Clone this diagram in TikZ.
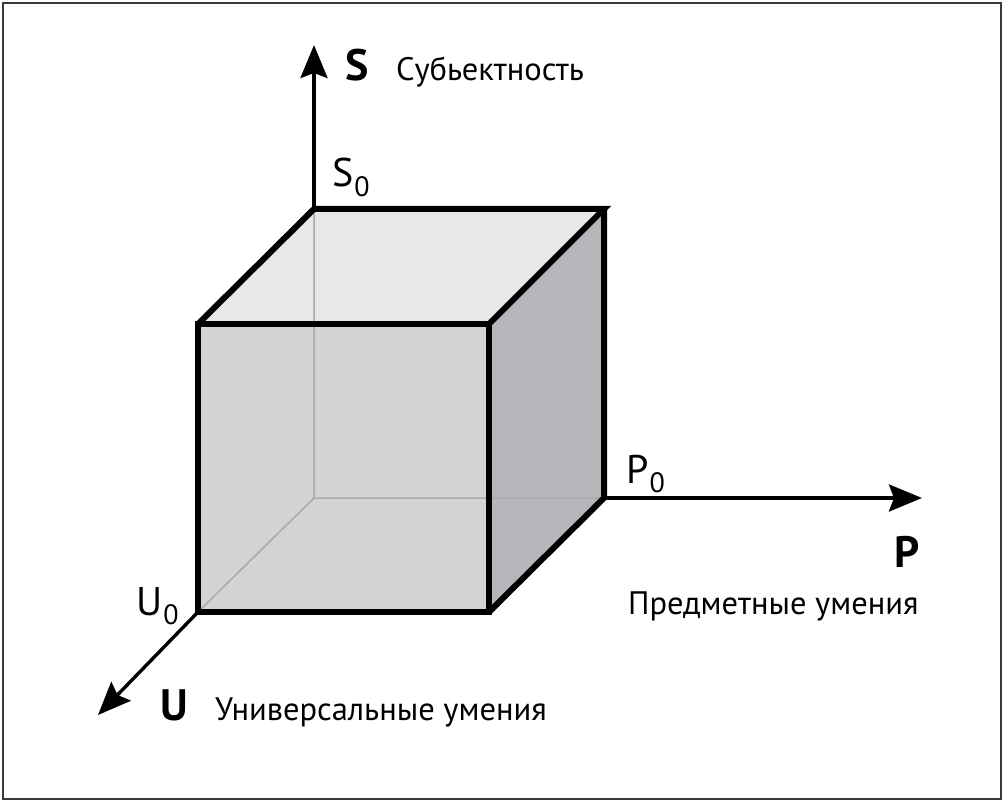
\documentclass[tikz,border=0pt]{standalone}
\usepackage{fontspec}
\setmainfont{PT Sans}
\usetikzlibrary{arrows.meta,positioning}
\definecolor{cubeTop}{HTML}{E8E8EA}
\definecolor{cubeFront}{HTML}{D2D3D5}
\definecolor{cubeSide}{HTML}{B5B6B9}
\definecolor{hidGray}{HTML}{A9AAAC}
\definecolor{frameGray}{HTML}{3A3A3A}
\newcommand{\idx}[1]{\kern1pt\raisebox{-0.24em}{\fontsize{28}{28}\selectfont #1}}

\begin{document}
\begin{tikzpicture}[x=1pt, y=-1pt,
  axis/.style={line width=3.4pt, -{Stealth[length=33pt, width=27pt, inset=5pt]}},
  edge/.style={line width=6pt, line join=miter},
  hidden/.style={line width=1.5pt, color=hidGray},
  axname/.style={inner sep=0pt, font=\fontsize{32.5}{34}\selectfont},
  lab/.style={inner sep=0pt, font=\fontsize{44}{46}\selectfont\bfseries},
  orig/.style={inner sep=0pt, font=\fontsize{40}{42}\selectfont}
]
\useasboundingbox (0,0) rectangle (1005,802);
% frame
\draw[frameGray, line width=2.5pt] (3,3) rectangle (1001,799);
% cube corners
\coordinate (A) at (198,612);
\coordinate (B) at (489,612);
\coordinate (C) at (489,324);
\coordinate (D) at (198,324);
\coordinate (E) at (314,498);
\coordinate (F) at (604,498);
\coordinate (G) at (604,209);
\coordinate (H) at (314,209);
% axis ends
\coordinate (Send) at (314,45);
\coordinate (Pend) at (922,498);
\coordinate (Uend) at (98,715);
% faces
\fill[cubeTop] (D) -- (H) -- (G) -- (C) -- cycle;
\fill[cubeSide] (B) -- (F) -- (G) -- (C) -- cycle;
\fill[cubeFront] (A) -- (B) -- (C) -- (D) -- cycle;
% hidden edges
\draw[hidden] (H) -- (E) -- (F) (E) -- (A);
% axes
\draw[axis] (H) -- (Send);
\draw[axis] (F) -- (Pend);
\draw[axis] (A) -- (Uend);
% visible edges
\draw[edge] (A) -- (B) -- (C) -- (D) -- cycle;
\draw[edge] (D) -- (H) -- (G) -- (C);
\draw[edge] (G) -- (F) -- (B);
% labels
\node[lab, anchor=base] (Sax) at (357,81) {S};
\node[axname, anchor=base west] (Sname) at (396,81) {Субьектность};
\node[orig, anchor=base west] (S0) at (332,187) {S\idx{0}};
\node[orig, anchor=base west] (P0) at (626,483) {P\idx{0}};
\node[orig, anchor=base west] (U0) at (136,615) {U\idx{0}};
\node[lab, anchor=base] (Pax) at (907,567) {P};
\node[axname, anchor=base west] (Pname) at (628,614) {Предметные умения};
\node[lab, anchor=base] (Uax) at (174,720) {U};
\node[axname, anchor=base west] (Uname) at (215,720) {Универсальные умения};
\end{tikzpicture}
\end{document}
